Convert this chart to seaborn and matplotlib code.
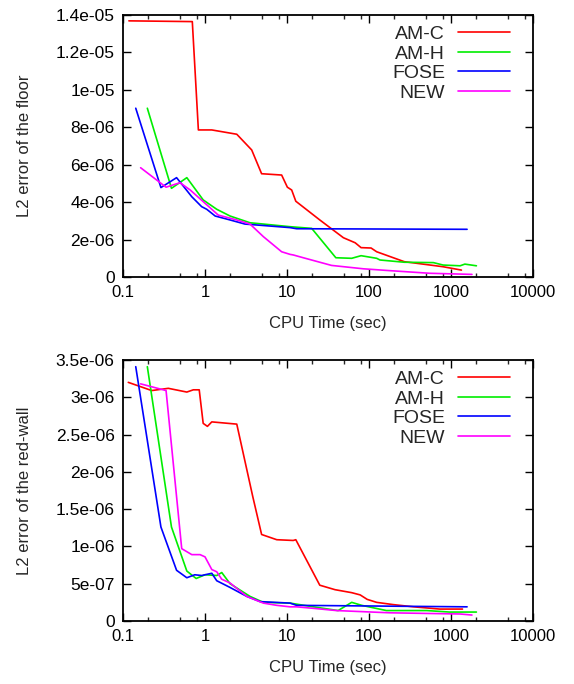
import pandas as pd
import matplotlib
matplotlib.use("Agg")
import matplotlib.pyplot as plt
from matplotlib.lines import Line2D
from matplotlib.ticker import FixedLocator, NullFormatter
import seaborn as sns

# --- Daten ---
METHODS = ["AM-C", "AM-H", "FOSE", "NEW"]
COLORS = {"AM-C": "#ff0000", "AM-H": "#00ee00", "FOSE": "#0000ff", "NEW": "#ff00ff"}

# Floor (Werte in 1e-6)
floor_amc_t = [0.118, 0.70, 0.83, 1.21, 2.44, 3.71, 4.9, 8.6, 10.1, 11.4, 12.8, 25.1, 48.7, 67.8, 80, 106, 124, 269, 800, 1340]
floor_amc_e = [13.69, 13.65, 7.86, 7.86, 7.63, 6.79, 5.52, 5.45, 4.8, 4.65, 4.05, 3.05, 2.10, 1.83, 1.57, 1.55, 1.35, 0.82, 0.55, 0.37]
floor_amh_t = [0.198, 0.39, 0.60, 0.95, 1.39, 2.02, 3.54, 10.9, 20, 39.4, 61.5, 80, 124, 136, 269, 610, 800, 1290, 1475, 2040]
floor_amh_e = [9.02, 4.74, 5.31, 4.12, 3.62, 3.26, 2.90, 2.69, 2.60, 1.03, 1.0, 1.14, 1.0, 0.91, 0.79, 0.77, 0.64, 0.60, 0.69, 0.60]
floor_fose_t = [0.143, 0.29, 0.45, 0.69, 0.91, 1.05, 1.33, 2.02, 3.07, 10.9, 13.1, 1570]
floor_fose_e = [9.02, 4.78, 5.31, 4.29, 3.76, 3.62, 3.26, 3.05, 2.83, 2.64, 2.58, 2.55]
floor_new_t = [0.164, 0.335, 0.495, 0.66, 0.95, 1.45, 2.44, 3.54, 5.14, 8.6, 10.9, 11.9, 15.8, 34.9, 85, 180, 550, 1800]
floor_new_e = [5.84, 4.80, 5.04, 4.65, 4.03, 3.31, 3.05, 2.83, 2.16, 1.35, 1.21, 1.18, 1.03, 0.62, 0.44, 0.34, 0.20, 0.14]

# Red-wall (Werte in 1e-6)
wall_amc_t = [0.116, 0.224, 0.357, 0.60, 0.72, 0.85, 0.95, 1.07, 1.21, 2.44, 3.82, 4.9, 7.5, 11.9, 12.8, 25.1, 38.5, 61.5, 78, 95, 124, 197, 350, 730, 1380]
wall_amc_e = [3.20, 3.09, 3.12, 3.07, 3.10, 3.10, 2.65, 2.61, 2.67, 2.64, 1.67, 1.16, 1.09, 1.08, 1.09, 0.48, 0.42, 0.38, 0.35, 0.29, 0.25, 0.22, 0.19, 0.16, 0.16]
wall_amh_t = [0.198, 0.39, 0.60, 0.78, 1.0, 1.39, 1.60, 2.02, 3.54, 5.14, 10.9, 21, 42, 61.5, 81.5, 163, 505, 960, 2040]
wall_amh_e = [3.41, 1.26, 0.67, 0.57, 0.62, 0.61, 0.65, 0.50, 0.33, 0.25, 0.24, 0.19, 0.14, 0.25, 0.21, 0.14, 0.14, 0.12, 0.12]
wall_fose_t = [0.143, 0.29, 0.45, 0.60, 0.75, 0.91, 1.21, 1.39, 2.02, 3.23, 4.7, 10.9, 13.1, 1570]
wall_fose_e = [3.41, 1.26, 0.68, 0.58, 0.62, 0.61, 0.64, 0.54, 0.45, 0.33, 0.26, 0.24, 0.21, 0.19]
wall_new_t = [0.164, 0.335, 0.52, 0.69, 0.87, 1.0, 1.21, 1.39, 1.60, 2.02, 3.23, 5.14, 7.5, 10.9, 13.1, 21, 40, 180, 1290, 1800]
wall_new_e = [3.18, 3.09, 0.97, 0.89, 0.89, 0.86, 0.69, 0.66, 0.56, 0.51, 0.33, 0.24, 0.21, 0.19, 0.19, 0.17, 0.14, 0.11, 0.094, 0.08]

X_TICKS = [0.1, 1, 10, 100, 1000, 10000]
X_TICK_LABELS = ["0.1", "1", "10", "100", "1000", "10000"]
FLOOR_Y_TICKS = [0, 2e-6, 4e-6, 6e-6, 8e-6, 1e-5, 1.2e-5, 1.4e-5]
FLOOR_Y_LABELS = ["0", "2e-06", "4e-06", "6e-06", "8e-06", "1e-05", "1.2e-05", "1.4e-05"]
WALL_Y_TICKS = [0, 5e-7, 1e-6, 1.5e-6, 2e-6, 2.5e-6, 3e-6, 3.5e-6]
WALL_Y_LABELS = ["0", "5e-07", "1e-06", "1.5e-06", "2e-06", "2.5e-06", "3e-06", "3.5e-06"]


def build_df(series):
    rows = []
    for method, (t, e) in zip(METHODS, series):
        for ti, ei in zip(t, e):
            rows.append({"method": method, "cpu_time": ti, "error": ei * 1e-6})
    return pd.DataFrame(rows)


df_floor = build_df([(floor_amc_t, floor_amc_e), (floor_amh_t, floor_amh_e),
                     (floor_fose_t, floor_fose_e), (floor_new_t, floor_new_e)])
df_wall = build_df([(wall_amc_t, wall_amc_e), (wall_amh_t, wall_amh_e),
                    (wall_fose_t, wall_fose_e), (wall_new_t, wall_new_e)])

sns.set_theme(style="ticks")
plt.rcParams["font.family"] = ["Liberation Sans", "DejaVu Sans"]

fig = plt.figure(figsize=(5.74, 6.84), dpi=100)
ax_top = fig.add_axes([0.2143, 0.595, 0.7143, 0.383])
ax_bot = fig.add_axes([0.2143, 0.0921, 0.7143, 0.3816])


def style_axis(ax, df, yticks, ylabels, ymax, ylabel):
    sns.lineplot(data=df, x="cpu_time", y="error", hue="method", palette=COLORS,
                 estimator=None, sort=False, linewidth=1.2, legend=False, ax=ax)
    ax.set_xscale("log")
    ax.set_xlim(0.1, 10000)
    ax.set_ylim(0, ymax)
    ax.xaxis.set_major_locator(FixedLocator(X_TICKS))
    ax.set_xticklabels(X_TICK_LABELS)
    # Nebenticks bei 2, 5, 8 pro Dekade
    minor = [m * d for d in [0.1, 1, 10, 100, 1000] for m in (2, 5, 8)]
    ax.xaxis.set_minor_locator(FixedLocator(minor))
    ax.xaxis.set_minor_formatter(NullFormatter())
    ax.yaxis.set_major_locator(FixedLocator(yticks))
    ax.set_yticklabels(ylabels)
    ax.tick_params(which="major", direction="in", length=5.5, width=1.0,
                   top=True, right=True, pad=6, colors="black")
    ax.tick_params(axis="x", which="major", labelsize=12)
    ax.tick_params(axis="y", which="major", labelsize=12.5)
    ax.tick_params(which="minor", direction="in", length=2.8, width=1.0,
                   top=True, right=True)
    for sp in ax.spines.values():
        sp.set_linewidth(1.3)
        sp.set_color("black")
    ax.set_xlabel("CPU Time (sec)", fontsize=12, labelpad=11)
    ax.set_ylabel(ylabel, fontsize=12, labelpad=17)
    handles = [Line2D([], [], color=COLORS[m], linewidth=1.2) for m in METHODS]
    ax.legend(handles, METHODS, loc="upper right", frameon=False, markerfirst=False,
              fontsize=14, handlelength=2.7, labelspacing=0.1, handletextpad=0.65,
              borderaxespad=0.0, bbox_to_anchor=(0.963, 0.99))


style_axis(ax_top, df_floor, FLOOR_Y_TICKS, FLOOR_Y_LABELS, 1.4e-5, "L2 error of the floor")
style_axis(ax_bot, df_wall, WALL_Y_TICKS, WALL_Y_LABELS, 3.5e-6, "L2 error of the red-wall")

fig.savefig("out.png", dpi=100)
